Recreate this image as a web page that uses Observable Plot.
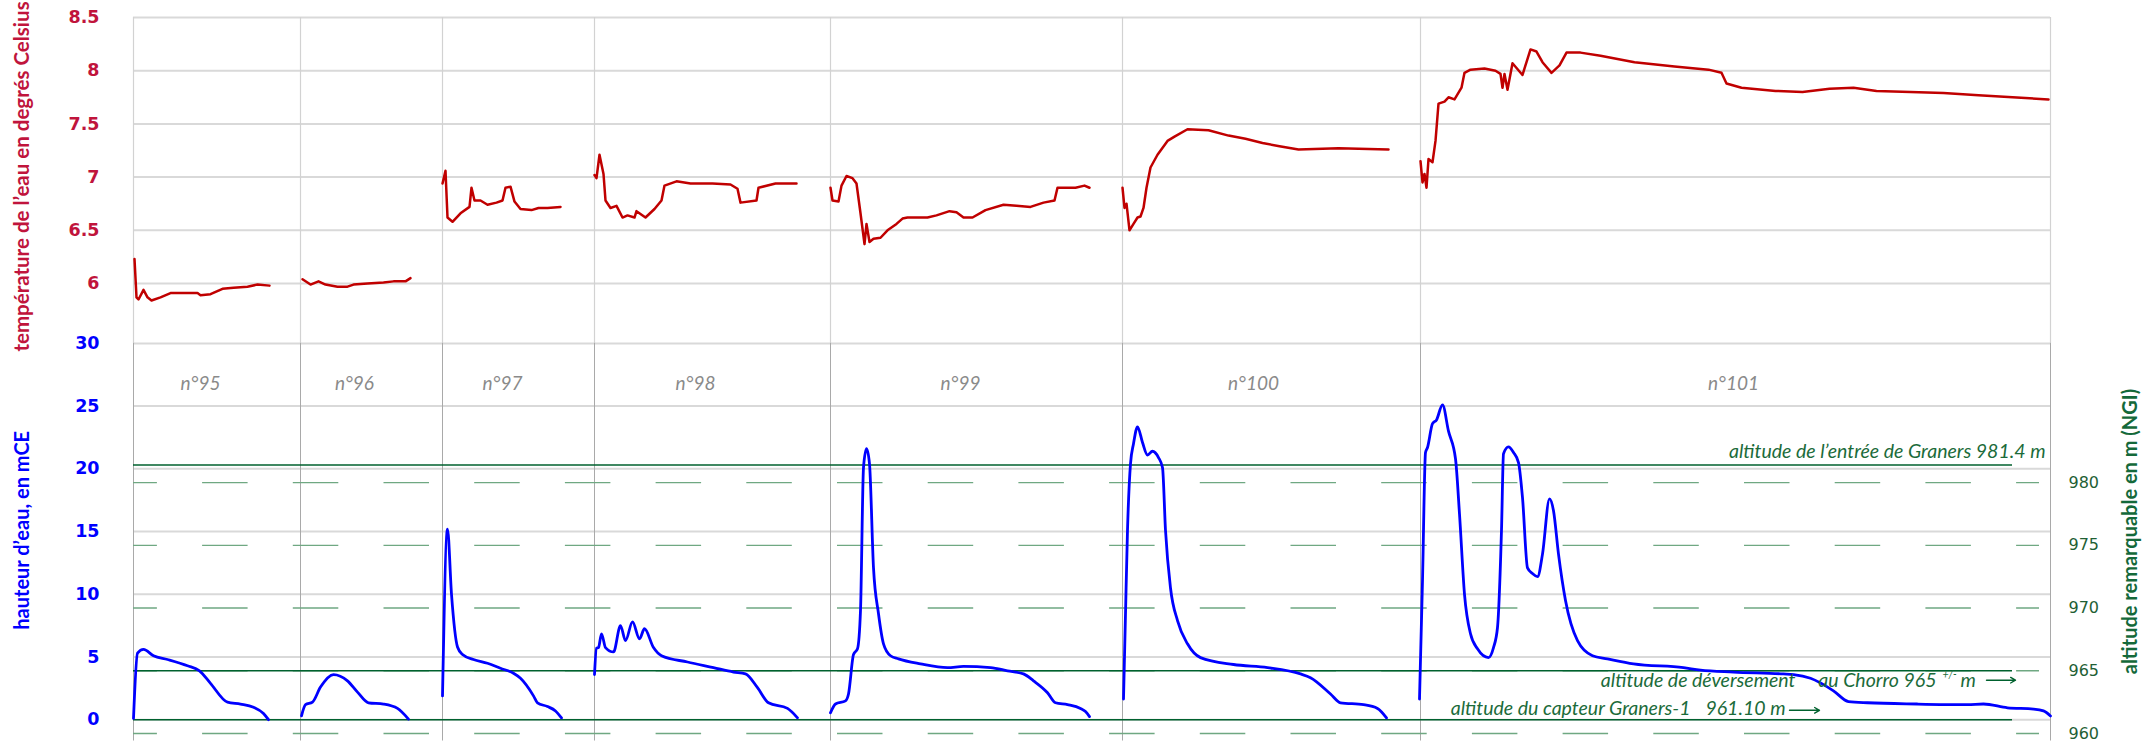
<!DOCTYPE html>
<html><head><meta charset="utf-8">
<script src="https://cdn.jsdelivr.net/npm/d3@7"></script>
<script src="https://cdn.jsdelivr.net/npm/@observablehq/plot@0.6"></script>
<style>body{margin:0;background:#fff}</style>
</head><body><div id="chart"></div>
<script>
// ---------- data ----------
const eventNames = ["n°95","n°96","n°97","n°98","n°99","n°100","n°101"];
const eventStartDay = [0, 16.7, 30.9, 46.1, 69.7, 98.9, 128.7];
const chartEndDay = 191.7;
const eventLabelDay = [6.7, 22.1, 36.9, 56.2, 82.7, 112.0, 160.0];

const tempTicks = [6, 6.5, 7, 7.5, 8, 8.5];
const waterTicks = [0, 5, 10, 15, 20, 25, 30];
const altitudeTicks = [960, 965, 970, 975, 980];
const sensorAltitude = 961.1;
const entranceAltitude = 981.4;
const overflowAltitude = 965;

// temperature (day, °C)
const temp95 = [[0.1,6.23],[0.3,5.87],[0.5,5.85],[1.0,5.94],[1.4,5.87],[1.8,5.84],[2.7,5.87],[3.7,5.91],[5.4,5.91],[6.4,5.91],[6.7,5.89],[7.7,5.90],[8.9,5.95],[10.0,5.96],[11.4,5.97],[12.4,5.99],[13.6,5.98]];
const temp96 = [[16.9,6.04],[17.7,5.99],[18.5,6.02],[19.2,5.99],[20.4,5.97],[21.4,5.97],[22.0,5.99],[23.4,6.0],[25.0,6.01],[26.0,6.02],[27.2,6.02],[27.7,6.05]];
const temp97 = [[30.9,6.94],[31.2,7.06],[31.4,6.62],[31.9,6.58],[32.7,6.66],[33.6,6.72],[33.8,6.90],[34.1,6.78],[34.7,6.78],[35.4,6.74],[36.3,6.76],[36.9,6.78],[37.2,6.90],[37.7,6.91],[38.1,6.77],[38.7,6.70],[39.8,6.69],[40.5,6.71],[41.4,6.71],[42.7,6.72]];
const temp98 = [[46.1,7.02],[46.3,6.99],[46.6,7.21],[47.0,7.03],[47.2,6.78],[47.7,6.71],[48.3,6.73],[48.9,6.62],[49.4,6.64],[50.1,6.62],[50.3,6.68],[51.2,6.62],[52.1,6.70],[52.8,6.78],[53.1,6.92],[54.3,6.96],[55.7,6.94],[57.9,6.94],[59.7,6.93],[60.4,6.89],[60.7,6.76],[62.3,6.78],[62.5,6.90],[64.2,6.94],[66.3,6.94]];
const temp99 = [[69.7,6.90],[69.9,6.78],[70.5,6.77],[70.8,6.92],[71.3,7.01],[71.9,6.99],[72.3,6.94],[72.7,6.66],[73.1,6.37],[73.3,6.56],[73.6,6.39],[74.0,6.42],[74.7,6.43],[75.4,6.50],[76.3,6.56],[76.9,6.61],[77.4,6.62],[79.4,6.62],[80.3,6.64],[81.6,6.68],[82.3,6.67],[83.0,6.62],[83.9,6.62],[85.2,6.69],[87.0,6.74],[88.3,6.73],[89.7,6.72],[91.0,6.76],[92.1,6.78],[92.4,6.90],[94.2,6.90],[95.1,6.92],[95.6,6.90]];
const temp100 = [[98.9,6.90],[99.1,6.71],[99.3,6.75],[99.6,6.50],[100.0,6.56],[100.4,6.62],[100.7,6.63],[101.0,6.71],[101.3,6.90],[101.7,7.09],[102.4,7.21],[103.4,7.34],[104.1,7.38],[105.4,7.45],[107.5,7.44],[109.5,7.39],[111.2,7.36],[112.9,7.32],[114.6,7.29],[116.5,7.26],[120.5,7.27],[125.5,7.26]];
const temp101 = [[128.7,7.15],[128.9,6.95],[129.1,7.03],[129.3,6.90],[129.5,7.17],[129.9,7.14],[130.2,7.34],[130.5,7.69],[131.1,7.71],[131.5,7.75],[132.1,7.73],[132.8,7.84],[133.1,7.98],[133.7,8.01],[135.1,8.02],[136.2,8.0],[136.7,7.97],[136.9,7.84],[137.1,7.97],[137.4,7.82],[137.9,8.07],[138.9,7.96],[139.7,8.20],[140.3,8.18],[140.9,8.08],[141.8,7.98],[142.6,8.05],[143.3,8.17],[144.7,8.17],[146.7,8.14],[150.1,8.08],[154.1,8.04],[157.5,8.01],[158.8,7.98],[159.3,7.88],[160.8,7.84],[164.2,7.81],[166.9,7.80],[169.6,7.83],[172.0,7.84],[174.3,7.81],[177.7,7.80],[181.0,7.79],[184.5,7.77],[187.9,7.75],[191.5,7.73]];

// water height (day, mCE)
const water95 = [[0,0.1],[0.4,5.3],[1.0,5.6],[2.0,5.1],[3.4,4.8],[5.4,4.3],[6.6,3.9],[7.7,2.9],[9.4,1.4],[10.7,1.25],[12.0,1.0],[13.0,0.5],[13.5,0]];
const water96 = [[16.8,0.3],[17.2,1.2],[17.9,1.4],[18.7,2.6],[20.0,3.6],[21.4,3.1],[22.4,2.2],[23.5,1.35],[25.0,1.25],[26.4,0.9],[27.5,0.05]];
const water97 = [[30.9,1.9],[31.4,15.2],[31.8,10.0],[32.4,5.8],[32.9,5.2],[34.0,4.8],[35.4,4.5],[36.7,4.1],[38.0,3.7],[38.7,3.3],[40.0,1.9],[40.4,1.35],[41.4,1.05],[42.2,0.7],[42.8,0.15]];
const water98 = [[46.1,3.6],[46.3,5.7],[46.5,5.75],[46.8,6.85],[47.2,5.75],[48.0,5.4],[48.7,7.5],[49.2,6.3],[49.9,7.8],[50.6,6.45],[51.1,7.25],[52.0,5.75],[52.8,5.1],[55.4,4.6],[58.0,4.15],[60.0,3.8],[61.2,3.65],[62.4,2.55],[63.5,1.35],[65.4,0.9],[66.4,0.15]];
const water99 = [[69.7,0.55],[70.2,1.25],[71.2,1.5],[71.5,2.05],[72.0,5.2],[72.4,5.65],[72.7,8.7],[73.0,20.1],[73.3,21.6],[73.6,20.4],[74.0,12.1],[74.5,8.45],[75.0,6.05],[75.7,5.1],[76.5,4.85],[78.7,4.45],[81.4,4.15],[83.0,4.25],[85.7,4.15],[87.4,3.9],[89.0,3.65],[90.0,3.1],[91.4,2.15],[92.2,1.35],[93.4,1.2],[94.7,0.9],[95.2,0.65],[95.6,0.25]];
const water100 = [[99.0,1.65],[99.2,8.45],[99.4,15.1],[99.7,20.4],[100.0,22.0],[100.4,23.35],[100.9,22.1],[101.4,21.1],[101.9,21.4],[102.5,20.9],[102.9,20.1],[103.2,15.1],[103.7,10.5],[104.4,7.9],[105.4,6.05],[106.7,4.95],[110.0,4.4],[113.4,4.15],[116.7,3.65],[117.7,3.35],[119.7,2.05],[120.7,1.35],[123.0,1.2],[124.4,0.9],[125.3,0.15]];
const water101 = [[128.6,1.65],[128.9,11.1],[129.2,21.3],[129.4,21.7],[129.9,23.6],[130.3,23.9],[130.9,25.1],[131.5,23.0],[132.2,20.8],[132.6,16.4],[133.1,10.0],[133.7,6.85],[134.4,5.65],[135.5,4.95],[136.0,5.75],[136.4,7.35],[136.8,15.1],[137.0,21.2],[137.5,21.75],[138.0,21.3],[138.5,20.5],[138.9,17.7],[139.4,12.1],[139.9,11.65],[140.4,11.4],[140.9,13.2],[141.6,17.6],[142.0,16.65],[142.5,13.2],[143.2,9.5],[144.4,6.3],[145.9,5.1],[147.4,4.85],[150.0,4.45],[155.0,4.15],[156.7,3.95],[160.0,3.8],[165.0,3.65],[166.0,3.6],[167.7,3.3],[170.0,2.3],[171.5,1.45],[173.4,1.35],[178.4,1.25],[183.4,1.2],[185.0,1.25],[187.4,0.95],[190.0,0.85],[191.0,0.7],[191.7,0.3]];

const tempSeries = [temp95, temp96, temp97, temp98, temp99, temp100, temp101];
const waterSeries = [water95, water96, water97, water98, water99, water100, water101];

// ---------- scale helpers (upper panel maps °C onto the shared vertical scale) ----------
const T_BASE = 34.774, T_SLOPE = 8.482;
const tY = t => T_BASE + (t - 6) * T_SLOPE;
const yT = v => Math.round((6 + (v - T_BASE) / T_SLOPE) * 10) / 10;
const aY = a => a - sensorAltitude;

const tempRows = tempSeries.flatMap((s, i) => s.map(([day, t]) => ({event: eventNames[i], day, y: tY(t)})));
const waterRows = waterSeries.flatMap((s, i) => s.map(([day, h]) => ({event: eventNames[i], day, y: h})));
const boundaries = [...eventStartDay, chartEndDay];
const labelRows = eventNames.map((n, i) => ({name: n, day: eventLabelDay[i]}));

const RED = "#c00000", RED_TXT = "#c0143c", BLUE = "#0000ff", GREEN = "#00612e", GREEN_TXT = "#1b6b3a", GREEN_DASH = "#6fa882";
const annFont = {fontFamily: "Lato", fontStyle: "italic", fill: GREEN_TXT};

const overflowLevel = aY(overflowAltitude);
const annotations = [
  {day: 191.2, y: aY(entranceAltitude), dy: -13, anchor: "end", size: 19.5, text: "altitude de l’entrée de Graners 981.4 m"},
  {day: 166.2, y: overflowLevel, dy: 10, anchor: "end", size: 19.5, text: "altitude de déversement"},
  {day: 180.3, y: overflowLevel, dy: 10, anchor: "end", size: 19.5, text: "au Chorro 965"},
  {day: 181.6, y: overflowLevel, dy: 4, anchor: "middle", size: 10.5, text: "+/-"},
  {day: 182.7, y: overflowLevel, dy: 10, anchor: "start", size: 19.5, text: "m"},
  {day: 155.7, y: 0, dy: -11, anchor: "end", size: 19.5, text: "altitude du capteur Graners-1"},
  {day: 165.2, y: 0, dy: -11, anchor: "end", size: 19.5, text: "961.10 m"}
];
const arrows = [
  {x1: 185.3, x2: 188.2, y: overflowLevel - 0.75},
  {x1: 165.6, x2: 168.6, y: 0.75}
];

const chart = Plot.plot({
  width: 2156, height: 742,
  marginLeft: 133, marginRight: 106, marginTop: 17, marginBottom: 9,
  style: {fontFamily: "Lato, sans-serif", background: "#fff", overflow: "visible"},
  x: {domain: [0, chartEndDay], axis: null},
  y: {domain: [-1.1, tY(8.5)], label: null},
  marks: [
    // gray gridlines
    Plot.ruleY([...tempTicks.map(tY), ...waterTicks], {x1: 0, x2: chartEndDay, stroke: "#d9d9d9", strokeWidth: 2}),
    // event separators
    Plot.ruleX(boundaries, {y1: 30, y2: tY(8.5), stroke: "#d2d2d2", strokeWidth: 1.2}),
    Plot.ruleX(boundaries, {y1: -1.7, y2: 30, stroke: "#a9a9a9", strokeWidth: 1}),
    // remarkable altitude dashes
    Plot.ruleY(altitudeTicks.map(aY), {x1: 0, x2: 190.6, stroke: GREEN_DASH, strokeWidth: 1.4, strokeDasharray: "45.5 45.2", strokeDashoffset: 21.6}),
    // remarkable altitude solid lines
    Plot.ruleY([entranceAltitude, overflowAltitude, sensorAltitude].map(aY), {x1: 0, x2: 187.9, stroke: GREEN, strokeWidth: 1.6}),
    // event labels
    Plot.text(labelRows, {x: "day", y: 26.8, text: "name", fill: "#8a8a8a", fontStyle: "italic", fontSize: 19, fontFamily: "Lato"}),
    // series
    Plot.line(tempRows, {x: "day", y: "y", z: "event", stroke: RED, strokeWidth: 2.5}),
    Plot.line(waterRows, {x: "day", y: "y", z: "event", stroke: BLUE, strokeWidth: 2.8, curve: "monotone-x"}),
    // annotations
    ...annotations.map(a => Plot.text([a], {x: "day", y: "y", text: "text", dy: a.dy, textAnchor: a.anchor, ...annFont, fontSize: a.size})),
    Plot.arrow(arrows, {x1: "x1", x2: "x2", y1: "y", y2: "y", stroke: GREEN, strokeWidth: 1.4, headLength: 6}),
    // axes
    Plot.axisY(tempTicks.map(tY), {anchor: "left", tickSize: 0, tickPadding: 34, tickFormat: yT, fill: RED_TXT, fontWeight: "bold", fontSize: 17.5, fontFamily: "DejaVu Sans", label: null}),
    Plot.axisY(waterTicks, {anchor: "left", tickSize: 0, tickPadding: 34, tickFormat: d => String(d), fill: BLUE, fontWeight: "bold", fontSize: 17.5, fontFamily: "DejaVu Sans", label: null}),
    Plot.axisY(altitudeTicks.map(aY), {anchor: "right", tickSize: 0, tickPadding: 18, tickFormat: v => String(Math.round(v + sensorAltitude)), fill: "#1f5f35", fontSize: 16, fontFamily: "DejaVu Sans", label: null}),
    // axis titles
    Plot.text(["température de l’eau en degrés Celsius"], {frameAnchor: "left", textAnchor: "middle", y: tY(7.0) + 0.05, dx: -111, rotate: -90, fill: RED_TXT, fontWeight: "bold", fontSize: 20.5, fontFamily: "Lato"}),
    Plot.text(["hauteur d’eau, en mCE"], {frameAnchor: "left", textAnchor: "middle", y: 15.1, dx: -111, rotate: -90, fill: BLUE, fontWeight: "bold", fontSize: 20, fontFamily: "Lato"}),
    Plot.text(["altitude remarquable en m (NGI)"], {frameAnchor: "right", textAnchor: "middle", y: 15.0, dx: 80, rotate: -90, fill: "#14693a", fontWeight: "bold", fontSize: 20, fontFamily: "Lato"})
  ]
});
document.getElementById("chart").appendChild(chart);
</script></body></html>
